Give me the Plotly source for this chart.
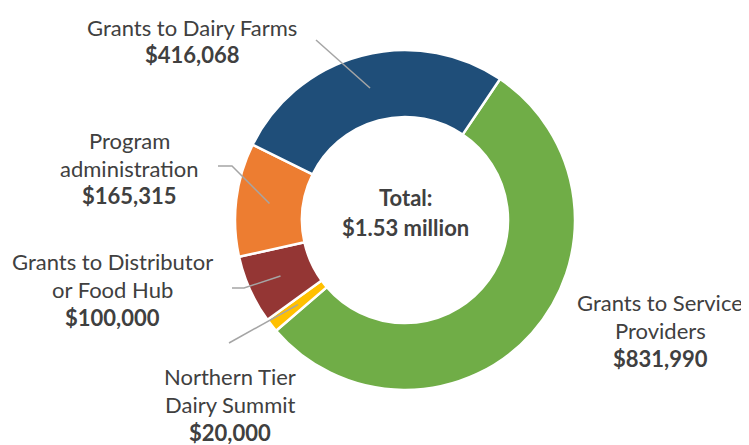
import math

import plotly.graph_objects as go

categories = [
    "Grants to Service Providers",
    "Northern Tier Dairy Summit",
    "Grants to Distributor or Food Hub",
    "Program administration",
    "Grants to Dairy Farms",
]
amounts = [831990, 20000, 100000, 165315, 416068]
label_lines = [
    ["Grants to Service", "Providers"],
    ["Northern Tier", "Dairy Summit"],
    ["Grants to Distributor", "or Food Hub"],
    ["Program", "administration"],
    ["Grants to Dairy Farms"],
]
colors = ["#70AD47", "#FFC000", "#943634", "#ED7D31", "#1F4E79"]

W, H = 749, 445
PAGE_MARGIN = 8  # default body margin of the html page
CX, CY, R = 405, 220, 170
HOLE = 0.606
ROTATION = 34
TEXT = "#404040"
FONT = "Lato"
SIZE = 22

# label block placement (pixel centre x, first line y), leader elbow points
label_pos = [(660, 302), (230, 376), (112, 261), (129, 140), (192, 27)]
leader_pts = [None, [(229, 343)], [(244, 288), (232, 288)], [(232, 166), (218, 166)], [(316, 40)]]
LINE_GAP = 28


def px(x, y):
    return (x - PAGE_MARGIN) / W, 1 - (y - PAGE_MARGIN) / H


x0, y1 = px(CX - R, CY - R)
x1, y0 = px(CX + R, CY + R)
fig = go.Figure(
    go.Pie(
        labels=categories,
        values=amounts,
        hole=HOLE,
        sort=False,
        direction="clockwise",
        rotation=ROTATION,
        marker={"colors": colors, "line": {"color": "white", "width": 2.5}},
        textinfo="none",
        hoverinfo="label+value",
        domain={"x": [x0, x1], "y": [y0, y1]},
    )
)

annotations = []
shapes = []
total = sum(amounts)
start = ROTATION
mid_r = R * (1 + HOLE) / 2
for name, amt, lines, pos, pts in zip(categories, amounts, label_lines, label_pos, leader_pts):
    sweep = 360 * amt / total
    mid = math.radians(start + sweep / 2)
    start += sweep
    ax, ay = CX + mid_r * math.sin(mid), CY - mid_r * math.cos(mid)

    lx, ly = pos
    texts = lines + [f"<b>${amt:,}</b>"]
    for i, t in enumerate(texts):
        x, y = px(lx, ly + i * LINE_GAP)
        annotations.append(
            dict(x=x, y=y, xref="paper", yref="paper", text=t, showarrow=False,
                 xanchor="center", yanchor="middle",
                 font={"family": FONT, "size": SIZE, "color": TEXT})
        )
    if pts:
        path = [px(ax, ay)] + [px(*p) for p in pts]
        d = "M " + " L ".join(f"{x:.5f},{y:.5f}" for x, y in path)
        shapes.append(dict(type="path", path=d, xref="paper", yref="paper",
                           line={"color": "#A5A5A5", "width": 1.5}))

for text, y in [("<b>Total:</b>", CY - 23), (f"<b>${total / 1e6:.2f} million</b>", CY + 7)]:
    x, yy = px(CX, y)
    annotations.append(
        dict(x=x, y=yy, xref="paper", yref="paper", text=text, showarrow=False,
             xanchor="center", yanchor="middle",
             font={"family": FONT, "size": SIZE, "color": TEXT})
    )

fig.update_layout(
    width=W,
    height=H,
    margin={"l": 0, "r": 0, "t": 0, "b": 0},
    paper_bgcolor="white",
    showlegend=False,
    annotations=annotations,
    shapes=shapes,
)

fig.write_html("out.html")
